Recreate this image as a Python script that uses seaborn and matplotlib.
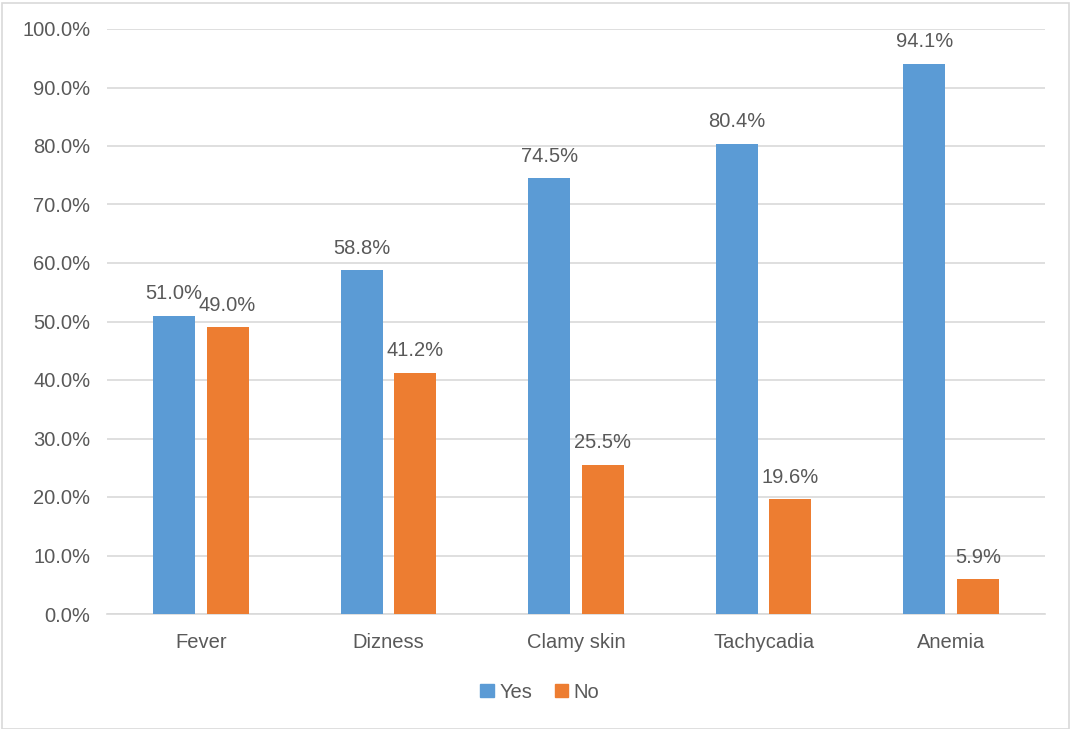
import matplotlib
matplotlib.use("Agg")
import matplotlib.pyplot as plt
import seaborn as sns
import pandas as pd
from matplotlib.patches import Rectangle

symptoms = ["Fever", "Dizness", "Clamy skin", "Tachycadia", "Anemia"]
yes_pct = [51.0, 58.8, 74.5, 80.4, 94.1]
no_pct = [49.0, 41.2, 25.5, 19.6, 5.9]
groups = ["Yes", "No"]
colors = ["#5B9BD5", "#ED7D31"]

df = pd.DataFrame({
    "symptom": symptoms * 2,
    "group": ["Yes"] * len(symptoms) + ["No"] * len(symptoms),
    "pct": yes_pct + no_pct,
})

sns.set_style("white")
plt.rcParams["font.family"] = ["Liberation Sans", "DejaVu Sans"]
text_color = "#595959"
grid_color = "#D9D9D9"
fs = 14.5

fig = plt.figure(figsize=(10.71, 7.29), dpi=100)
ax = fig.add_axes([107 / 1071, 1 - 614 / 729, (1045 - 107) / 1071, (614 - 29) / 729])

sns.barplot(data=df, x="symptom", y="pct", hue="group", hue_order=groups,
            palette=colors, order=symptoms, width=0.57, gap=0.215,
            saturation=1, linewidth=0, ax=ax, legend=False, zorder=3)

ax.set_ylim(0, 100)
ax.set_yticks(range(0, 101, 10))
ax.set_yticklabels([f"{v:.1f}%" for v in range(0, 101, 10)])
ax.set_xlim(-0.5, len(symptoms) - 0.5)
ax.yaxis.grid(True, color=grid_color, linewidth=1.2, zorder=0)
ax.xaxis.grid(False)
for side in ["top", "right", "left"]:
    ax.spines[side].set_visible(False)
ax.spines["bottom"].set_color(grid_color)
ax.spines["bottom"].set_linewidth(1.2)
ax.tick_params(axis="both", length=0, labelsize=fs, colors=text_color, pad=12)
ax.tick_params(axis="x", pad=14)
ax.set_xlabel("")
ax.set_ylabel("")

for container in ax.containers:
    ax.bar_label(container, labels=[f"{b.get_height():.1f}%" for b in container],
                 padding=9, fontsize=fs, color=text_color)

# legend below the plot
handles = [Rectangle((0, 0), 1, 1, color=c) for c in colors]
fig.legend(handles, groups, loc="center", bbox_to_anchor=(540 / 1071, 1 - 692 / 729),
           ncol=2, frameon=False, fontsize=fs, labelcolor=text_color,
           handlelength=0.65, handleheight=0.65, handletextpad=0.3, columnspacing=1.1)

# light frame around the whole chart
fig.patches.append(Rectangle((2 / 1071, 0), 1 - 4 / 1071, 1 - 3 / 729,
                             transform=fig.transFigure, fill=False,
                             edgecolor=grid_color, linewidth=1.2))

fig.savefig("out.png", dpi=100, facecolor="white")
